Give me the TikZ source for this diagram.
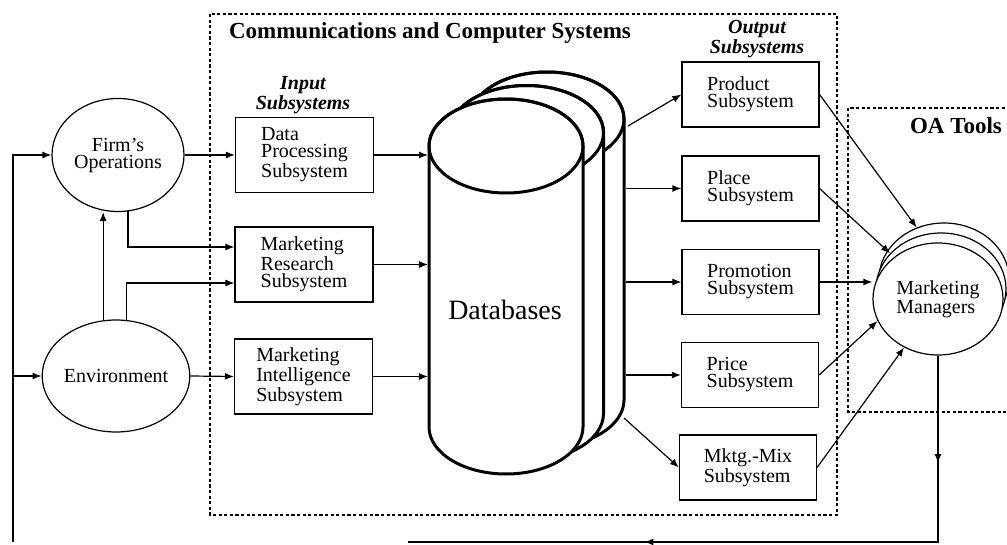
\documentclass[tikz,border=0pt]{standalone}
\usepackage{fontspec}
\setmainfont{Liberation Serif}
\usetikzlibrary{arrows.meta,shapes.geometric,decorations.markings}

\begin{document}
\begin{tikzpicture}[x=0.5pt,y=0.5pt,
    every node/.style={font=\fontsize{10}{8.5}\selectfont},
    line/.style={line width=0.6pt},
    arr/.style={line width=0.6pt,-{Latex[length=4.5pt,width=3.5pt]}},
    subbox/.style={draw,line width=0.6pt,minimum width=69pt,minimum height=37.5pt,inner sep=0pt,align=left},
    outbox/.style={subbox,minimum width=68.5pt,minimum height=32.5pt},
    oval/.style={draw,ellipse,line width=0.6pt,minimum width=66pt,minimum height=56.5pt,inner sep=0pt,align=center},
    frame/.style={line width=0.7pt,dash pattern=on 1.6pt off 1.2pt},
    heading/.style={font=\fontsize{11.5}{12}\selectfont\bfseries},
    sublabel/.style={font=\fontsize{10}{8.5}\selectfont\bfseries\itshape,align=center},
    cyl/.style={line width=1.5pt}]
    \useasboundingbox (0,0) rectangle (1007,-545);
    \clip (0,0) rectangle (1007,-545);
    % dashed frames
    \draw[frame] (210,-14) rectangle (837,-515);
    \draw[frame] (848,-108) rectangle (1020,-412);
    \node[heading,anchor=west] (comm) at (222,-33) {Communications and Computer Systems};
    \node[heading] (oa) at (956,-126) {OA Tools};
    \node[sublabel] (inlab) at (303,-95) {Input\\Subsystems};
    \node[sublabel] (outlab) at (757,-39) {Output\\Subsystems};
    % left side
    \node[oval] (firm) at (118,-155) {Firm's\\Operations};
    \node[oval,minimum width=67pt,minimum height=56pt] (env) at (116,-376) {Environment};
    % input subsystems
    \node[subbox] (dp) at (304.5,-155) {Data\\Processing\\Subsystem};
    \node[subbox] (mr) at (304,-264.5) {Marketing\\Research\\Subsystem};
    \node[subbox] (mi) at (303.5,-376.5) {Marketing\\Intelligence\\Subsystem};
    % databases, back to front
    \foreach \dx/\dy in {41/27,20.5/13.5,0/0}{
        \filldraw[cyl,fill=white] (429+\dx,-146+\dy) -- (429+\dx,-427+\dy)
            arc[start angle=180,end angle=360,x radius=77,y radius=47] -- (583+\dx,-146+\dy)
            arc[start angle=0,end angle=180,x radius=77,y radius=47] -- cycle;
        \draw[cyl] (506+\dx,-146+\dy) ellipse[x radius=77,y radius=47];
    }
    \node[font=\fontsize{14}{16}\selectfont] (db) at (505,-310) {Databases};
    \coordinate (dbL) at (428,-280);
    \coordinate (dbR) at (626,-280);
    \coordinate (dbP) at (628,-126);
    \coordinate (dbM) at (624,-418);
    % output subsystems
    \node[outbox] (prod) at (750.5,-94.5) {Product\\Subsystem};
    \node[outbox] (place) at (750.5,-188.5) {Place\\Subsystem};
    \node[outbox] (promo) at (750.5,-282) {Promotion\\Subsystem};
    \node[outbox] (price) at (750,-375) {Price\\Subsystem};
    \node[outbox] (mix) at (748,-467.5) {Mktg.-Mix\\Subsystem};
    % marketing managers
    \node[oval,fill=white,minimum width=65pt,minimum height=56pt] (mm3) at (944,-279) {};
    \node[oval,fill=white,minimum width=65pt,minimum height=56pt] (mm2) at (941,-289) {};
    \node[oval,fill=white,minimum width=65pt,minimum height=56pt,align=left] (mm) at (938,-299) {Marketing\\Managers};
    % flows into the input subsystems
    \draw[arr] (firm.east) -- (dp.west);
    \draw[arr] (firm.280) |- ([yshift=8.75pt]mr.west);
    \draw[arr] (env.103) -- (env.103 |- firm.south);
    \draw[arr] (env.79) |- ([yshift=-9.25pt]mr.west);
    \draw[arr] (env.east) -- (mi.west);
    \draw[arr] (dp.east) -- (dp.east -| dbL);
    \draw[arr] (mr.east) -- (mr.east -| dbL);
    \draw[arr] (mi.east) -- (mi.east -| dbL);
    % databases to outputs
    \draw[arr] (dbP) -- (prod.west);
    \draw[arr] (dbR |- place.west) -- (place.west);
    \draw[arr] (dbR |- promo.west) -- (promo.west);
    \draw[arr] (dbR |- price.west) -- (price.west);
    \draw[arr] (dbM) -- (mix.west);
    % outputs to managers
    \draw[arr] (prod.east) -- (mm3.118);
    \draw[arr] (place.east) -- (mm2.145);
    \draw[arr] (promo.east) -- (promo.east -| mm.west);
    \draw[arr] (price.east) -- (mm.200);
    \draw[arr] (mix.east) -- (mm.235);
    % feedback
    \coordinate (fbR) at (938,-542);
    \coordinate (fbE) at (408,-542);
    \coordinate (fbL) at (13,-542);
    \draw[line,postaction={decorate},decoration={markings,
        mark=at position 0.15 with {\arrow{Latex[length=4.5pt,width=3.5pt]}},
        mark=at position 0.67 with {\arrow{Latex[length=4.5pt,width=3.5pt]}}}]
        (mm.south) -- (fbR) -- (fbE);
    \draw[arr] (fbL) |- (firm.west);
    \draw[arr] (fbL |- env.west) -- (env.west);
\end{tikzpicture}
\end{document}
